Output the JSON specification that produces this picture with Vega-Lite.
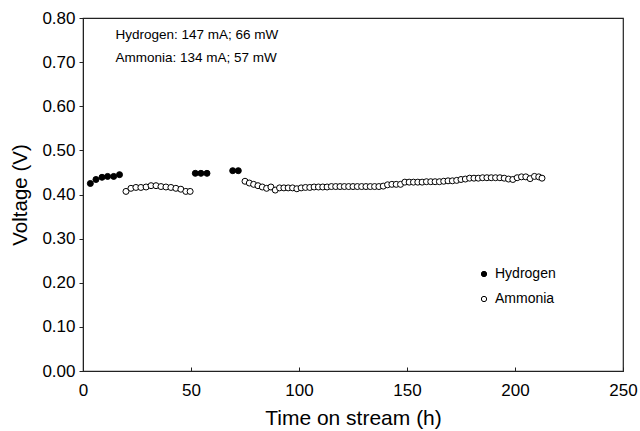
{
  "$schema": "https://vega.github.io/schema/vega-lite/v6.json",
  "autosize": {"type": "none"},
  "width": 540,
  "height": 353,
  "padding": {"left": 83, "top": 18, "right": 17, "bottom": 60},
  "background": "white",
  "config": {
    "font": "Liberation Sans",
    "view": {"stroke": "#222", "strokeWidth": 1.2}
  },
  "datasets": {
    "pts": [
      {"t": 3.4, "v": 0.425, "gas": "Hydrogen"},
      {"t": 6.0, "v": 0.434, "gas": "Hydrogen"},
      {"t": 8.8, "v": 0.439, "gas": "Hydrogen"},
      {"t": 11.4, "v": 0.441, "gas": "Hydrogen"},
      {"t": 14.2, "v": 0.441, "gas": "Hydrogen"},
      {"t": 16.9, "v": 0.445, "gas": "Hydrogen"},
      {"t": 52.0, "v": 0.448, "gas": "Hydrogen"},
      {"t": 54.6, "v": 0.448, "gas": "Hydrogen"},
      {"t": 57.4, "v": 0.448, "gas": "Hydrogen"},
      {"t": 69.3, "v": 0.454, "gas": "Hydrogen"},
      {"t": 71.9, "v": 0.454, "gas": "Hydrogen"},
      {"t": 19.9, "v": 0.407, "gas": "Ammonia"},
      {"t": 22.2, "v": 0.414, "gas": "Ammonia"},
      {"t": 24.5, "v": 0.416, "gas": "Ammonia"},
      {"t": 26.8, "v": 0.416, "gas": "Ammonia"},
      {"t": 29.2, "v": 0.417, "gas": "Ammonia"},
      {"t": 31.5, "v": 0.420, "gas": "Ammonia"},
      {"t": 33.8, "v": 0.420, "gas": "Ammonia"},
      {"t": 36.1, "v": 0.418, "gas": "Ammonia"},
      {"t": 38.4, "v": 0.417, "gas": "Ammonia"},
      {"t": 40.7, "v": 0.416, "gas": "Ammonia"},
      {"t": 43.0, "v": 0.414, "gas": "Ammonia"},
      {"t": 45.3, "v": 0.412, "gas": "Ammonia"},
      {"t": 47.6, "v": 0.407, "gas": "Ammonia"},
      {"t": 49.6, "v": 0.407, "gas": "Ammonia"},
      {"t": 75, "v": 0.430, "gas": "Ammonia"},
      {"t": 77, "v": 0.426, "gas": "Ammonia"},
      {"t": 79, "v": 0.423, "gas": "Ammonia"},
      {"t": 81, "v": 0.420, "gas": "Ammonia"},
      {"t": 83, "v": 0.417, "gas": "Ammonia"},
      {"t": 85, "v": 0.414, "gas": "Ammonia"},
      {"t": 87, "v": 0.417, "gas": "Ammonia"},
      {"t": 89, "v": 0.410, "gas": "Ammonia"},
      {"t": 91, "v": 0.415, "gas": "Ammonia"},
      {"t": 93, "v": 0.415, "gas": "Ammonia"},
      {"t": 95, "v": 0.415, "gas": "Ammonia"},
      {"t": 97, "v": 0.415, "gas": "Ammonia"},
      {"t": 99, "v": 0.413, "gas": "Ammonia"},
      {"t": 101, "v": 0.415, "gas": "Ammonia"},
      {"t": 103, "v": 0.416, "gas": "Ammonia"},
      {"t": 105, "v": 0.416, "gas": "Ammonia"},
      {"t": 107, "v": 0.417, "gas": "Ammonia"},
      {"t": 109, "v": 0.417, "gas": "Ammonia"},
      {"t": 111, "v": 0.417, "gas": "Ammonia"},
      {"t": 113, "v": 0.417, "gas": "Ammonia"},
      {"t": 115, "v": 0.418, "gas": "Ammonia"},
      {"t": 117, "v": 0.418, "gas": "Ammonia"},
      {"t": 119, "v": 0.418, "gas": "Ammonia"},
      {"t": 121, "v": 0.418, "gas": "Ammonia"},
      {"t": 123, "v": 0.418, "gas": "Ammonia"},
      {"t": 125, "v": 0.418, "gas": "Ammonia"},
      {"t": 127, "v": 0.418, "gas": "Ammonia"},
      {"t": 129, "v": 0.418, "gas": "Ammonia"},
      {"t": 131, "v": 0.418, "gas": "Ammonia"},
      {"t": 133, "v": 0.418, "gas": "Ammonia"},
      {"t": 135, "v": 0.418, "gas": "Ammonia"},
      {"t": 137, "v": 0.418, "gas": "Ammonia"},
      {"t": 139, "v": 0.419, "gas": "Ammonia"},
      {"t": 141, "v": 0.422, "gas": "Ammonia"},
      {"t": 143, "v": 0.423, "gas": "Ammonia"},
      {"t": 145, "v": 0.423, "gas": "Ammonia"},
      {"t": 147, "v": 0.423, "gas": "Ammonia"},
      {"t": 149, "v": 0.428, "gas": "Ammonia"},
      {"t": 151, "v": 0.428, "gas": "Ammonia"},
      {"t": 153, "v": 0.428, "gas": "Ammonia"},
      {"t": 155, "v": 0.428, "gas": "Ammonia"},
      {"t": 157, "v": 0.428, "gas": "Ammonia"},
      {"t": 159, "v": 0.429, "gas": "Ammonia"},
      {"t": 161, "v": 0.429, "gas": "Ammonia"},
      {"t": 163, "v": 0.429, "gas": "Ammonia"},
      {"t": 165, "v": 0.429, "gas": "Ammonia"},
      {"t": 167, "v": 0.430, "gas": "Ammonia"},
      {"t": 169, "v": 0.431, "gas": "Ammonia"},
      {"t": 171, "v": 0.431, "gas": "Ammonia"},
      {"t": 173, "v": 0.432, "gas": "Ammonia"},
      {"t": 175, "v": 0.434, "gas": "Ammonia"},
      {"t": 177, "v": 0.435, "gas": "Ammonia"},
      {"t": 179, "v": 0.437, "gas": "Ammonia"},
      {"t": 181, "v": 0.437, "gas": "Ammonia"},
      {"t": 183, "v": 0.437, "gas": "Ammonia"},
      {"t": 185, "v": 0.438, "gas": "Ammonia"},
      {"t": 187, "v": 0.438, "gas": "Ammonia"},
      {"t": 189, "v": 0.438, "gas": "Ammonia"},
      {"t": 191, "v": 0.438, "gas": "Ammonia"},
      {"t": 193, "v": 0.438, "gas": "Ammonia"},
      {"t": 195, "v": 0.437, "gas": "Ammonia"},
      {"t": 197, "v": 0.435, "gas": "Ammonia"},
      {"t": 199, "v": 0.434, "gas": "Ammonia"},
      {"t": 201, "v": 0.438, "gas": "Ammonia"},
      {"t": 203, "v": 0.440, "gas": "Ammonia"},
      {"t": 205, "v": 0.440, "gas": "Ammonia"},
      {"t": 207, "v": 0.436, "gas": "Ammonia"},
      {"t": 209, "v": 0.441, "gas": "Ammonia"},
      {"t": 211, "v": 0.440, "gas": "Ammonia"},
      {"t": 212.5, "v": 0.437, "gas": "Ammonia"}
    ],
    "notes": [
      {"t": 15, "v": 0.762, "label": "Hydrogen: 147 mA; 66 mW"},
      {"t": 15, "v": 0.710, "label": "Ammonia: 134 mA; 57 mW"}
    ]
  },
  "layer": [
    {
      "data": {"name": "pts"},
      "mark": {"type": "point", "shape": "circle", "filled": true, "stroke": "black", "strokeWidth": 1, "size": 36, "opacity": 1},
      "encoding": {
        "x": {
          "field": "t", "type": "quantitative",
          "scale": {"domain": [0, 250], "nice": false, "zero": false},
          "axis": {
            "title": "Time on stream (h)", "values": [0, 50, 100, 150, 200, 250],
            "grid": false, "tickSize": -4, "tickColor": "#222", "domainColor": "#222",
            "labelFlush": false, "labelOverlap": false,
            "labelFontSize": 17, "labelColor": "black", "labelPadding": 15,
            "titleFontSize": 21, "titleFontWeight": "normal", "titleColor": "black", "titlePadding": 9
          }
        },
        "y": {
          "field": "v", "type": "quantitative",
          "scale": {"domain": [0, 0.8], "nice": false, "zero": false},
          "axis": {
            "title": "Voltage (V)", "values": [0, 0.1, 0.2, 0.3, 0.4, 0.5, 0.6, 0.7, 0.8], "format": ".2f",
            "grid": false, "tickSize": 4, "tickColor": "#222", "domainColor": "#222",
            "labelFlush": false, "labelOverlap": false,
            "labelFontSize": 17, "labelColor": "black", "labelPadding": 4,
            "titleFontSize": 20.5, "titleFontWeight": "normal", "titleColor": "black", "titlePadding": 11
          }
        },
        "fill": {
          "field": "gas", "type": "nominal",
          "scale": {"domain": ["Hydrogen", "Ammonia"], "range": ["black", "white"]},
          "legend": {
            "title": null, "orient": "none", "legendX": 394, "legendY": 249,
            "symbolType": "circle", "symbolSize": 28, "symbolStrokeColor": "black", "symbolStrokeWidth": 1,
            "labelFontSize": 14, "labelColor": "black", "rowPadding": 11, "labelOffset": 4
          }
        }
      }
    },
    {
      "data": {"name": "notes"},
      "mark": {"type": "text", "align": "left", "baseline": "middle", "fontSize": 13.5, "color": "black"},
      "encoding": {
        "x": {"field": "t", "type": "quantitative"},
        "y": {"field": "v", "type": "quantitative"},
        "text": {"field": "label"}
      }
    }
  ]
}
